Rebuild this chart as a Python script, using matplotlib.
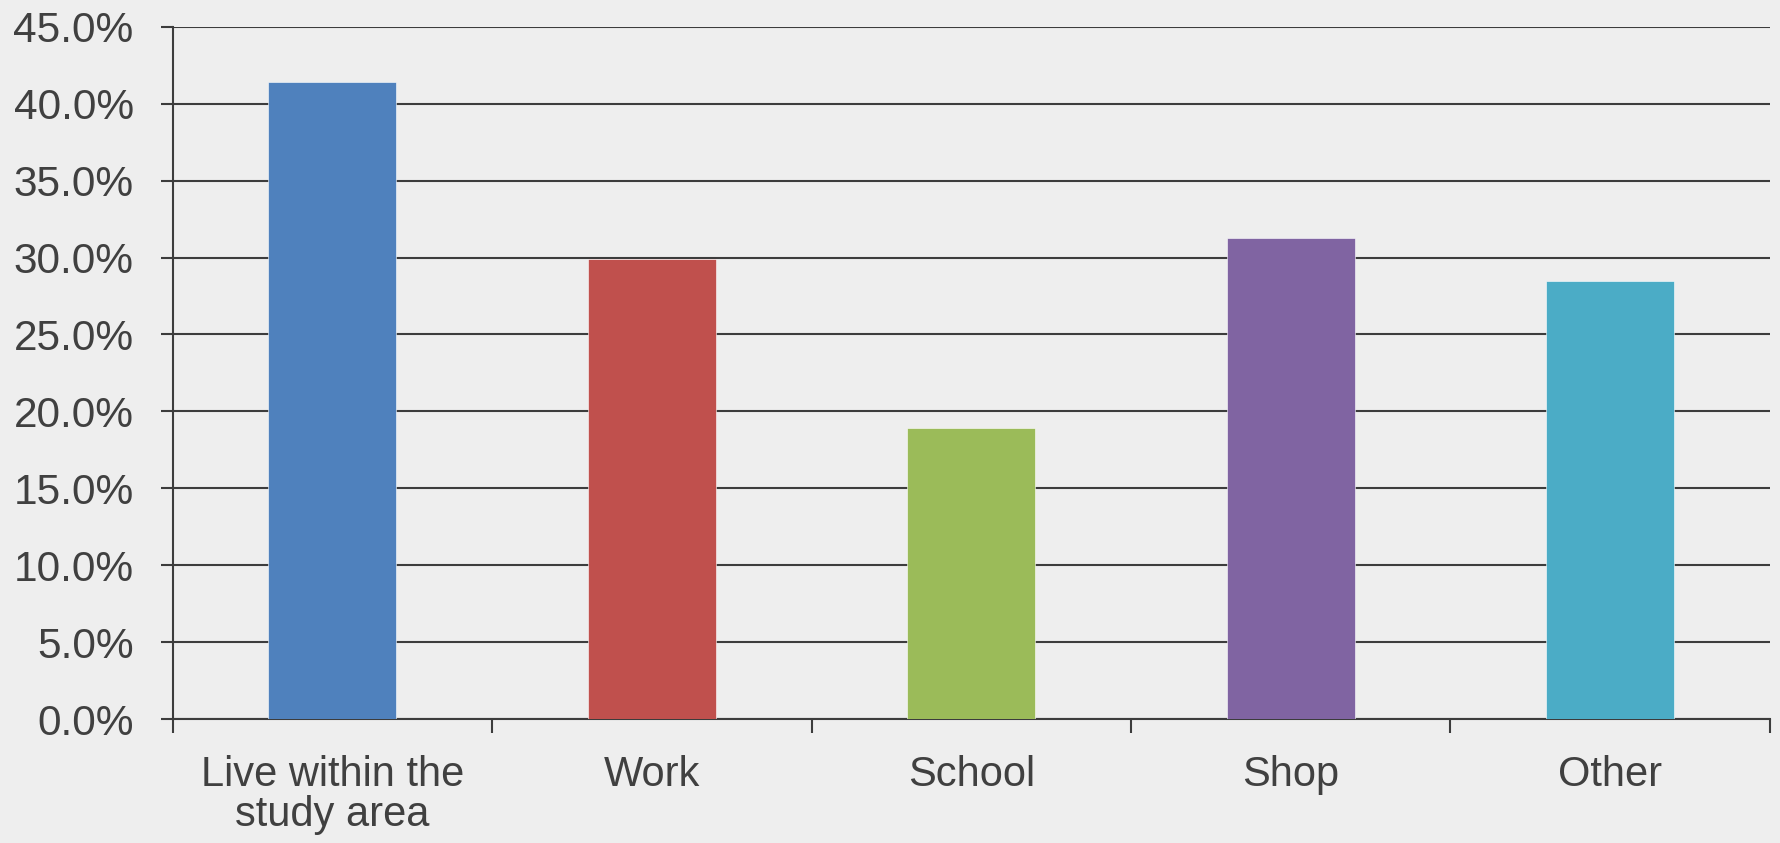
import matplotlib
matplotlib.use("Agg")
import matplotlib.pyplot as plt
import matplotlib.ticker as mticker

categories = ["Live within the\nstudy area", "Work", "School", "Shop", "Other"]
shares = [41.4, 29.9, 18.9, 31.3, 28.5]
bar_colors = ["#4F81BD", "#C0504D", "#9BBB59", "#8064A2", "#4BACC6"]
y_ticks = [0, 5, 10, 15, 20, 25, 30, 35, 40, 45]

plt.rcParams.update({
    "font.family": ["Liberation Sans", "DejaVu Sans"],
    "text.color": "#404040",
    "xtick.color": "#404040",
    "ytick.color": "#404040",
})

BG = "#eeeeee"
LINE = "#3c3c3c"

fig = plt.figure(figsize=(17.81, 8.43), dpi=100, facecolor=BG)
ax = fig.add_axes([0.0969, 0.147, 0.8969, 0.8213])
ax.set_facecolor(BG)

x = range(len(categories))
ax.bar(x, shares, width=0.4, color=bar_colors, zorder=3,
       edgecolor="white", linewidth=0.4)

ax.set_xlim(-0.5, len(categories) - 0.5)
ax.set_ylim(0, 45)

# horizontal gridlines
ax.set_yticks(y_ticks)
ax.yaxis.set_major_formatter(mticker.FuncFormatter(lambda v, _: f"{v:.1f}%"))
ax.grid(axis="y", color=LINE, lw=1.5, zorder=1)
ax.set_axisbelow(True)

# category labels centered, ticks at category boundaries
ax.set_xticks(list(x))
ax.set_xticklabels(categories, fontsize=30, linespacing=1.0)
ax.set_xticks([i - 0.5 for i in range(len(categories) + 1)], minor=True)
ax.tick_params(axis="x", which="major", length=0, pad=26)
ax.tick_params(axis="x", which="minor", length=10, width=1.5, color=LINE)
ax.tick_params(axis="y", length=9, width=1.5, color=LINE, pad=19, labelsize=30.5)

for side in ("top", "right"):
    ax.spines[side].set_visible(False)
ax.spines["left"].set_color(LINE)
ax.spines["left"].set_linewidth(1.5)
ax.spines["bottom"].set_color(LINE)
ax.spines["bottom"].set_linewidth(1.5)

fig.savefig("out.png", dpi=100, facecolor=BG)
